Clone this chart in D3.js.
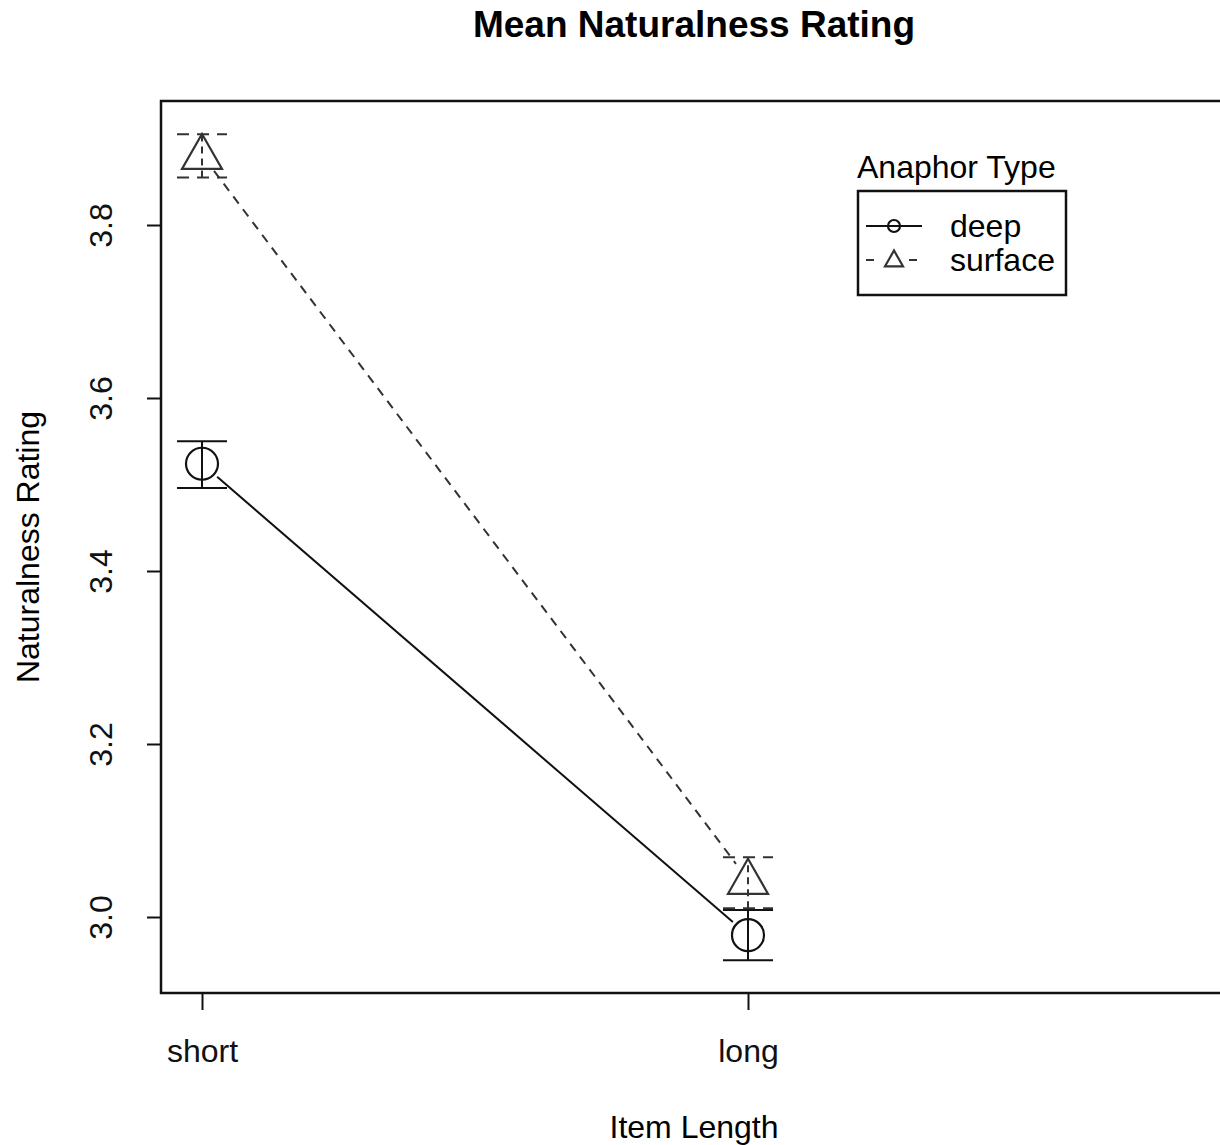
<!DOCTYPE html>
<html lang="en">
<head>
<meta charset="UTF-8"/>
<title>Mean Naturalness Rating</title>
<script src="https://d3js.org/d3.v7.min.js"></script>
<style>
  body { margin: 0; background: #fff; }
  svg { font-family: "Liberation Sans", Arial, sans-serif; }
</style>
</head>
<body>
<div id="chart"></div>
<script>
// chart data
var lengths = ["short", "long"];
var seriesNames = ["deep", "surface"];
var deepMean = [3.524, 2.979];
var deepLow = [3.496, 2.950];
var deepHigh = [3.550, 3.008];
var surfaceMean = [3.881, 3.043];
var surfaceLow = [3.855, 3.010];
var surfaceHigh = [3.905, 3.069];
var yTicks = [3.0, 3.2, 3.4, 3.6, 3.8];

var width = 1220, height = 1145;
var box = { left: 161, top: 101, right: 1232, bottom: 993 };

var svg = d3.select("#chart").append("svg")
  .attr("width", width)
  .attr("height", height);

// scales
var x = d3.scaleLinear().domain([0, 1]).range([202, 748]);
var y = d3.scaleLinear().domain([3.0, 3.8]).range([917, 225]);

// title
svg.append("text")
  .attr("x", 694).attr("y", 37)
  .attr("text-anchor", "middle")
  .style("font-size", "37px")
  .style("font-weight", "bold")
  .text("Mean Naturalness Rating");

// plot box
svg.append("rect")
  .attr("x", box.left).attr("y", box.top)
  .attr("width", box.right - box.left).attr("height", box.bottom - box.top)
  .attr("fill", "none").attr("stroke", "#111").attr("stroke-width", 2.5);

// y axis
var yAxis = svg.append("g")
  .attr("transform", "translate(" + box.left + ",0)")
  .call(d3.axisLeft(y).tickValues(yTicks).tickSize(14).tickFormat(d3.format(".1f")));
yAxis.select(".domain").remove();
yAxis.selectAll(".tick line").attr("stroke", "#111").attr("stroke-width", 2);
yAxis.selectAll(".tick text")
  .attr("x", null).attr("dy", null)
  .attr("transform", "translate(-60,0) rotate(-90)")
  .attr("text-anchor", "middle")
  .attr("dy", "0.35em")
  .style("font-size", "32px")
  .attr("fill", "#111");

// x axis
var xAxis = svg.append("g")
  .attr("transform", "translate(0," + box.bottom + ")")
  .call(d3.axisBottom(x).tickValues([0, 1]).tickSize(17).tickFormat(function(d) { return lengths[d]; }));
xAxis.select(".domain").remove();
xAxis.selectAll(".tick line").attr("stroke", "#111").attr("stroke-width", 2);
xAxis.selectAll(".tick text")
  .attr("y", 58).attr("dy", "0.35em")
  .style("font-size", "32px")
  .attr("fill", "#111");

// axis titles
svg.append("text")
  .attr("x", 694).attr("y", 1138)
  .attr("text-anchor", "middle")
  .style("font-size", "32px")
  .text("Item Length");

svg.append("text")
  .attr("transform", "translate(39,547) rotate(-90)")
  .attr("text-anchor", "middle")
  .style("font-size", "32px")
  .text("Naturalness Rating");

var series = [
  { name: "deep", mean: deepMean, low: deepLow, high: deepHigh, dash: null, color: "#111", shape: "circle" },
  { name: "surface", mean: surfaceMean, low: surfaceLow, high: surfaceHigh, dash: "9,7", color: "#333", shape: "triangle" }
];

var gap = 20;

function drawShape(g, shape, cx, cy, size, color) {
  if (shape === "circle") {
    g.append("circle").attr("cx", cx).attr("cy", cy).attr("r", size)
      .attr("fill", "none").attr("stroke", color).attr("stroke-width", 2.2);
  } else {
    // triangle with apex up, size = half base width
    var h = size * 1.75;
    g.append("path")
      .attr("d", "M" + cx + "," + (cy - h * 0.6) + "L" + (cx + size) + "," + (cy + h * 0.4) + "L" + (cx - size) + "," + (cy + h * 0.4) + "Z")
      .attr("fill", "none").attr("stroke", color).attr("stroke-width", 2.2);
  }
}

series.forEach(function(s) {
  var g = svg.append("g");

  // connecting line with gaps around the points
  var x0 = x(0), y0 = y(s.mean[0]), x1 = x(1), y1 = y(s.mean[1]);
  var len = Math.hypot(x1 - x0, y1 - y0);
  var ux = (x1 - x0) / len, uy = (y1 - y0) / len;
  g.append("line")
    .attr("x1", x0 + ux * gap).attr("y1", y0 + uy * gap)
    .attr("x2", x1 - ux * gap).attr("y2", y1 - uy * gap)
    .attr("stroke", s.color).attr("stroke-width", 2)
    .attr("stroke-dasharray", s.dash);

  s.mean.forEach(function(m, i) {
    var cx = x(i);
    // error bar
    g.append("line")
      .attr("x1", cx).attr("x2", cx)
      .attr("y1", y(s.low[i])).attr("y2", y(s.high[i]))
      .attr("stroke", s.color).attr("stroke-width", 2)
      .attr("stroke-dasharray", s.dash ? "7,5" : null);
    [s.low[i], s.high[i]].forEach(function(v) {
      g.append("line")
        .attr("x1", cx - 25).attr("x2", cx + 25)
        .attr("y1", y(v)).attr("y2", y(v))
        .attr("stroke", s.color).attr("stroke-width", 2)
        .attr("stroke-dasharray", s.dash ? "12,8" : null);
    });
    drawShape(g, s.shape, cx, y(m), s.shape === "circle" ? 16 : 20, s.color);
  });
});

// legend
var legend = svg.append("g");
legend.append("text")
  .attr("x", 857).attr("y", 178)
  .style("font-size", "32px")
  .text("Anaphor Type");
legend.append("rect")
  .attr("x", 858).attr("y", 191).attr("width", 208).attr("height", 104)
  .attr("fill", "none").attr("stroke", "#111").attr("stroke-width", 2.5);

series.forEach(function(s, i) {
  var ly = 226 + i * 34;
  legend.append("line")
    .attr("x1", 866).attr("x2", 922).attr("y1", ly).attr("y2", ly)
    .attr("stroke", s.color).attr("stroke-width", 2)
    .attr("stroke-dasharray", s.dash ? "8,5,0,30,8" : null);
  drawShape(legend, s.shape, 894, ly, s.shape === "circle" ? 6 : 9, s.color);
  legend.append("text")
    .attr("x", 950).attr("y", ly).attr("dy", "0.35em")
    .style("font-size", "32px")
    .text(seriesNames[i]);
});
</script>
</body>
</html>
